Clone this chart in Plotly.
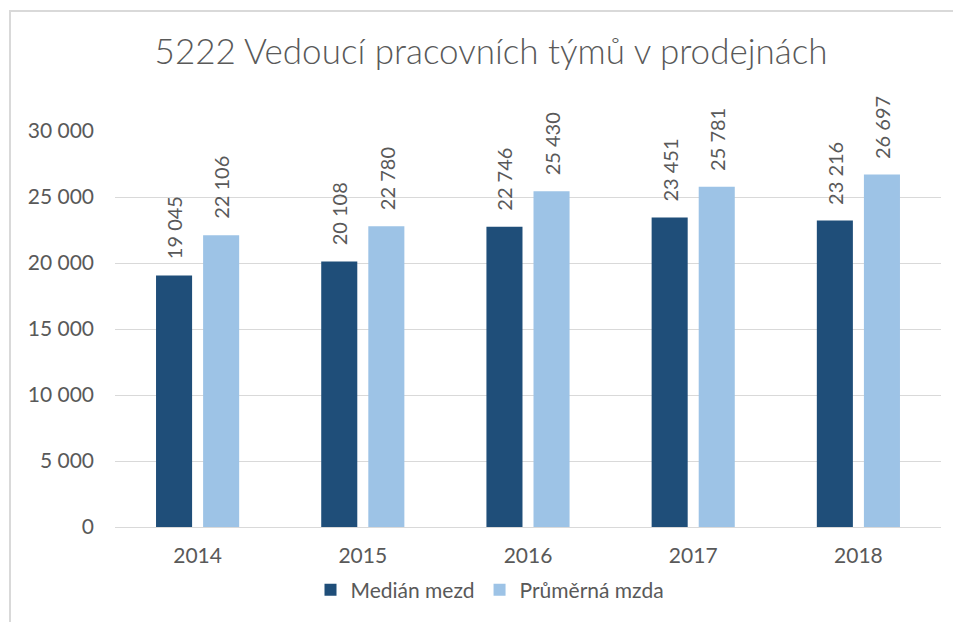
import plotly.graph_objects as go

years = ["2014", "2015", "2016", "2017", "2018"]
median = [19045, 20108, 22746, 23451, 23216]
average = [22106, 22780, 25430, 25781, 26697]
series_names = ["Medián mezd", "Průměrná mzda"]
title_text = "5222 Vedoucí pracovních týmů v prodejnách"
y_ticks = [0, 5000, 10000, 15000, 20000, 25000, 30000]

DARK = "#1F4E79"
LIGHT = "#9DC3E6"
TXT = "#595959"
GRID = "#D9D9D9"
FONT = "Lato"

W, H = 961, 622
OFF = 8  # page offset of the figure (default body margin)

# target plot area in page pixels
PL, PR, PT, PB = 115, 941, 131, 527
ML = PL - OFF
MT = PT - OFF
MR = W - (PR - OFF)
MB = H - (PB - OFF)
pw = PR - PL
ph = PB - PT

BARGAP = 0.43
GROUPGAP = 0.234


def fmt(v):
    return f"{v:,}".replace(",", " ")


def px_x(page_x):
    return (page_x - PL) / pw


def px_y(page_y):
    return (PB - page_y) / ph


fig = go.Figure()
fig.add_trace(go.Bar(x=years, y=median, name=series_names[0], marker_color=DARK, marker_line_width=0))
fig.add_trace(go.Bar(x=years, y=average, name=series_names[1], marker_color=LIGHT, marker_line_width=0))

slot = (1 - BARGAP) / 2
annotations = []
for i, (m, a) in enumerate(zip(median, average)):
    for off, v in ((-slot / 2, m), (slot / 2, a)):
        annotations.append(dict(
            x=i + off, y=v, xref="x", yref="y", text=fmt(v), showarrow=False,
            textangle=-90, xanchor="center", yanchor="bottom", yshift=14,
            font=dict(family=FONT, size=20, color=TXT)))

fig.update_layout(
    width=W, height=H,
    margin=dict(l=ML, r=MR, t=MT, b=MB, autoexpand=False),
    paper_bgcolor="white", plot_bgcolor="white",
    barmode="group", bargap=BARGAP, bargroupgap=GROUPGAP,
    separators=", ",
    title=dict(text=title_text, x=(491 - OFF) / W, xref="container", xanchor="center",
               y=1 - (52 - OFF) / H, yref="container", yanchor="middle",
               font=dict(family=FONT, size=35, color=TXT, weight=300)),
    font=dict(family=FONT, color=TXT),
    xaxis=dict(type="category", showgrid=False, showline=True, linecolor=GRID, linewidth=1,
               ticks="", tickfont=dict(family=FONT, size=21, color=TXT), ticklabelstandoff=10,
               range=[-0.5, len(years) - 0.5]),
    yaxis=dict(range=[0, 30000], tickvals=y_ticks, tickformat=",d", showgrid=True,
               gridcolor=GRID, gridwidth=1, zeroline=False, showline=False, ticks="",
               tickfont=dict(family=FONT, size=21, color=TXT), ticklabelstandoff=20),
    legend=dict(orientation="h", x=px_x(490), xanchor="center",
                y=px_y(590), yanchor="middle",
                font=dict(family=FONT, size=21, color=TXT), itemwidth=30,
                traceorder="normal", bgcolor="rgba(0,0,0,0)"),
    annotations=annotations,
    shapes=[dict(type="rect", xref="paper", yref="paper",
                 x0=px_x(10), x1=px_x(W + 40),
                 y0=px_y(H + 40), y1=px_y(11),
                 line=dict(color=GRID, width=2), fillcolor="rgba(0,0,0,0)", layer="below")],
)

fig.write_html("out.html")
